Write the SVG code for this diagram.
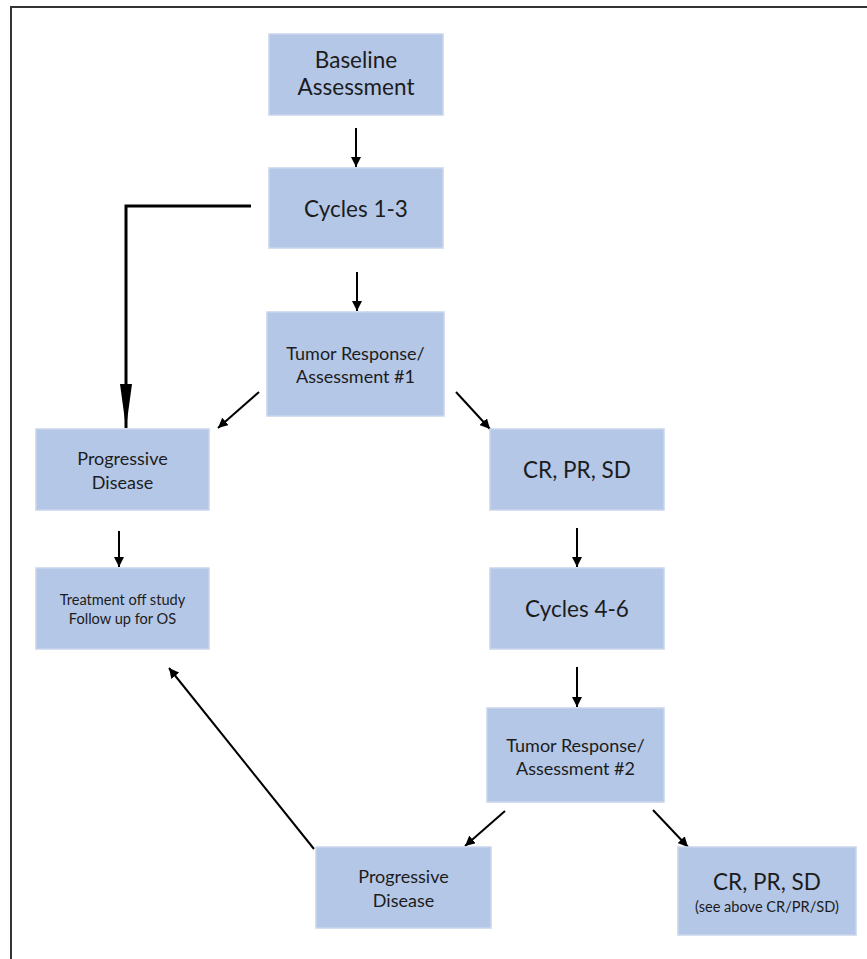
<svg xmlns="http://www.w3.org/2000/svg" width="867" height="959" viewBox="0 0 867 959">
<style>
.box{fill:#B4C7E7;stroke:#C8D5EC;stroke-width:1.5}
.t{font-family:Lato,"Open Sans","Liberation Sans",sans-serif;fill:#1c1c1c;text-anchor:middle}
.L{font-size:22.5px}
.M{font-size:18px}
.S{font-size:14.6px}
.c{stroke:#000;stroke-width:2;fill:none}
</style>
<defs>
<marker id="ah" viewBox="0 0 10 10" refX="10" refY="5" markerWidth="10" markerHeight="10" markerUnits="userSpaceOnUse" orient="auto">
<path d="M0,0 L10,5 L0,10 z" fill="#000"/>
</marker>
<marker id="ahBig" viewBox="0 0 44 12" refX="44" refY="6" markerWidth="44" markerHeight="12" markerUnits="userSpaceOnUse" orient="auto">
<path d="M0,0 L44,6 L0,12 z" fill="#000"/>
</marker>
</defs>
<rect width="867" height="959" fill="#fff"/>
<path d="M11,959 V7 H867" fill="none" stroke="#333" stroke-width="2"/>

<g id="connectors">
<line class="c" x1="356" y1="128" x2="356" y2="167" marker-end="url(#ah)"/>
<line class="c" x1="357" y1="272" x2="357" y2="311" marker-end="url(#ah)"/>
<path d="M251,206 H126 V428" fill="none" stroke="#000" stroke-width="3" marker-end="url(#ahBig)"/>
<line class="c" x1="259" y1="392" x2="218" y2="428" marker-end="url(#ah)"/>
<line class="c" x1="456" y1="392" x2="490" y2="429" marker-end="url(#ah)"/>
<line class="c" x1="119" y1="531" x2="119" y2="567" marker-end="url(#ah)"/>
<line class="c" x1="577" y1="528" x2="577" y2="567" marker-end="url(#ah)"/>
<line class="c" x1="577" y1="667" x2="577" y2="707" marker-end="url(#ah)"/>
<line class="c" x1="505" y1="811" x2="465" y2="846" marker-end="url(#ah)"/>
<line class="c" x1="653" y1="810" x2="688" y2="847" marker-end="url(#ah)"/>
<line class="c" x1="314" y1="849" x2="169" y2="668" marker-end="url(#ah)"/>
</g>

<g id="baseline">
<rect class="box" x="269" y="34" width="174" height="81"/>
<text class="t L" x="356" y="68">Baseline</text>
<text class="t L" x="356" y="95">Assessment</text>
</g>
<g id="cycles13">
<rect class="box" x="269" y="168" width="174" height="80"/>
<text class="t L" x="356" y="217">Cycles 1-3</text>
</g>
<g id="tumor1">
<rect class="box" x="267" y="312" width="177" height="104"/>
<text class="t M" x="355.5" y="360">Tumor Response/</text>
<text class="t M" x="355.5" y="383">Assessment #1</text>
</g>
<g id="pd1">
<rect class="box" x="36" y="429" width="173" height="81"/>
<text class="t M" x="122.5" y="465">Progressive</text>
<text class="t M" x="122.5" y="489">Disease</text>
</g>
<g id="offstudy">
<rect class="box" x="36" y="568" width="173" height="81"/>
<text class="t S" x="122.5" y="605">Treatment off study</text>
<text class="t S" x="122.5" y="624">Follow up for OS</text>
</g>
<g id="cr1">
<rect class="box" x="490" y="429" width="174" height="81"/>
<text class="t L" x="577" y="478">CR, PR, SD</text>
</g>
<g id="cycles46">
<rect class="box" x="490" y="568" width="174" height="81"/>
<text class="t L" x="577" y="617">Cycles 4-6</text>
</g>
<g id="tumor2">
<rect class="box" x="487" y="708" width="177" height="94"/>
<text class="t M" x="575.5" y="752">Tumor Response/</text>
<text class="t M" x="575.5" y="775">Assessment #2</text>
</g>
<g id="pd2">
<rect class="box" x="316" y="847" width="175" height="81"/>
<text class="t M" x="403.5" y="883">Progressive</text>
<text class="t M" x="403.5" y="907">Disease</text>
</g>
<g id="cr2">
<rect class="box" x="678" y="847" width="178" height="88"/>
<text class="t L" x="767" y="890">CR, PR, SD</text>
<text class="t S" x="767" y="912">(see above CR/PR/SD)</text>
</g>
</svg>
